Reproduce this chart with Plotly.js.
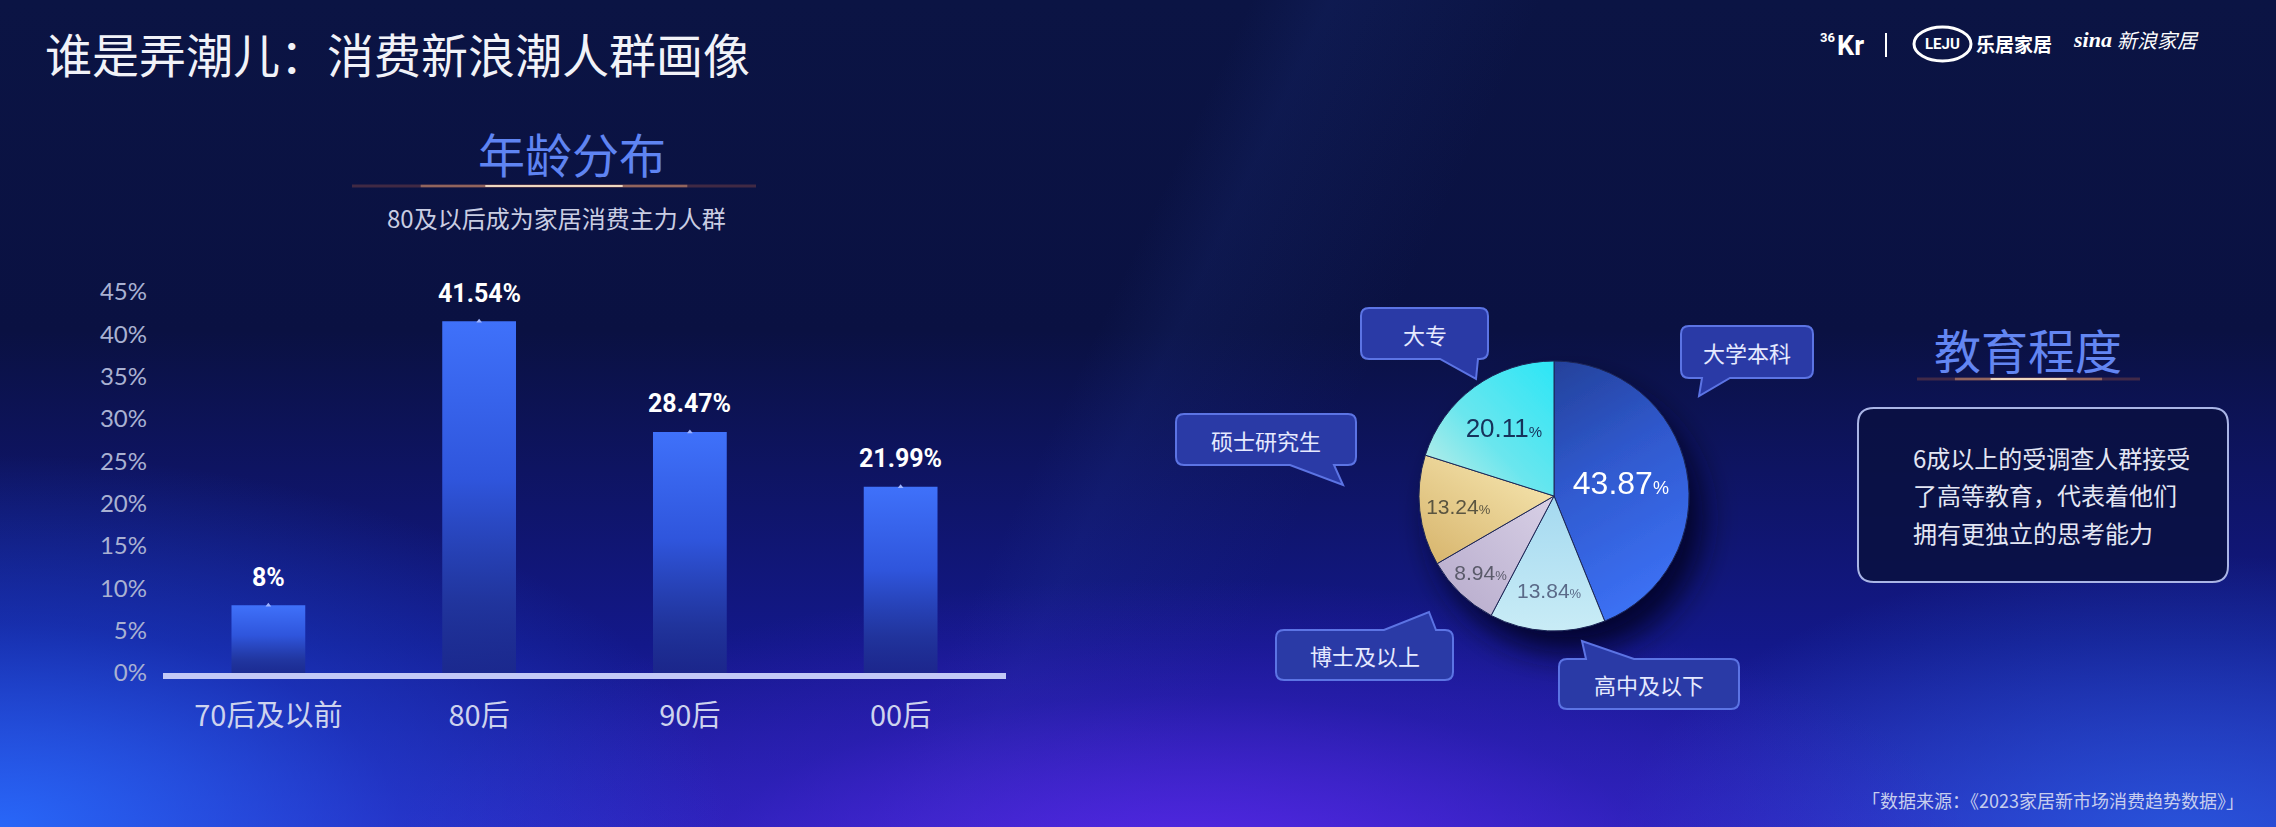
<!DOCTYPE html>
<html>
<head>
<meta charset="utf-8">
<script src="https://cdn.plot.ly/plotly-3.0.1.min.js"></script>
<style>
html,body{margin:0;padding:0;width:2276px;height:827px;overflow:hidden;}
body{
  background:
    radial-gradient(ellipse 32% 45% at 0% 100%, rgba(40,110,255,0.9) 0%, rgba(30,80,230,0.4) 55%, rgba(0,0,0,0) 100%),
    radial-gradient(ellipse 35% 35% at 52% 105%, rgba(90,40,235,0.9) 0%, rgba(60,30,200,0.35) 60%, rgba(0,0,0,0) 100%),
    radial-gradient(ellipse 25% 35% at 96% 102%, rgba(40,100,230,0.75) 0%, rgba(0,0,0,0) 100%),
    linear-gradient(115deg, rgba(0,0,0,0) 47%, rgba(40,70,170,0.12) 50%, rgba(0,0,0,0) 58%),
    linear-gradient(to bottom, #0b1444 0%, #0a1142 40%, #13188a 78%, #2a24b8 100%);
}
#chart{width:2276px;height:827px;}
</style>
</head>
<body>
<div id="chart"></div>
<script>
// ---------------- data ----------------
const ageCats = ['70后及以前', '80后', '90后', '00后'];
const ageVals = [8, 41.54, 28.47, 21.99];
const yTickVals = [0, 5, 10, 15, 20, 25, 30, 35, 40, 45];
const yTickText = ['0%', '5%', '10%', '15%', '20%', '25%', '30%', '35%', '40%', '45%'];

const eduLabels = ['大学本科', '高中及以下', '博士及以上', '硕士研究生', '大专'];
const eduVals = [43.87, 13.84, 8.94, 13.24, 20.11];

const titleText = '谁是弄潮儿：消费新浪潮人群画像';
const ageTitle = '年龄分布';
const ageSubtitle = '80及以后成为家居消费主力人群';
const eduTitle = '教育程度';
const eduNote = ['6成以上的受调查人群接受', '了高等教育，代表着他们', '拥有更独立的思考能力'];
const sourceText = '「数据来源：《2023家居新市场消费趋势数据》」';

// ---------------- helpers ----------------
const W = 2276, H = 827;
const px = x => x / W;
const py = y => 1 - y / H;
const CJK = '"Noto Sans CJK SC", "Noto Sans", sans-serif';

function bubblePath(b) {
  const [x0, y0, x1, y1] = b.box, r = b.r || 8;
  const P = (x, y) => px(x).toFixed(5) + ',' + py(y).toFixed(5);
  let d = 'M' + P(x0 + r, y0);
  if (b.side === 'top') d += ' L' + P(b.base[0], y0) + ' L' + P(b.tip[0], b.tip[1]) + ' L' + P(b.base[1], y0);
  d += ' L' + P(x1 - r, y0) + ' Q' + P(x1, y0) + ' ' + P(x1, y0 + r);
  d += ' L' + P(x1, y1 - r) + ' Q' + P(x1, y1) + ' ' + P(x1 - r, y1);
  if (b.side === 'bottom') d += ' L' + P(b.base[1], y1) + ' L' + P(b.tip[0], b.tip[1]) + ' L' + P(b.base[0], y1);
  d += ' L' + P(x0 + r, y1) + ' Q' + P(x0, y1) + ' ' + P(x0, y1 - r);
  d += ' L' + P(x0, y0 + r) + ' Q' + P(x0, y0) + ' ' + P(x0 + r, y0) + ' Z';
  return d;
}
function roundRect(x0, y0, x1, y1, r) {
  return bubblePath({box: [x0, y0, x1, y1], r: r, side: 'none'});
}

// callout placement (style / layout only)
const callouts = {
  '大专':     {box: [1361, 308, 1488, 359], side: 'bottom', base: [1440, 1478], tip: [1476, 379]},
  '大学本科': {box: [1681, 326, 1813, 378], side: 'bottom', base: [1702, 1730], tip: [1699, 396]},
  '硕士研究生': {box: [1176, 414, 1356, 465], side: 'bottom', base: [1290, 1334], tip: [1343, 485]},
  '博士及以上': {box: [1276, 630, 1453, 680], side: 'top', base: [1384, 1436], tip: [1429, 612]},
  '高中及以下': {box: [1559, 659, 1739, 709], side: 'top', base: [1586, 1634], tip: [1582, 641]}
};

// ---------------- traces ----------------
const barTrace = {
  type: 'bar', x: ageCats, y: ageVals,
  marker: {color: '#3d6ef5', line: {width: 0}},
  hoverinfo: 'skip', showlegend: false
};
const barTopTrace = {
  type: 'scatter', mode: 'markers', x: ageCats, y: ageVals,
  marker: {symbol: 'triangle-up', size: 5, color: '#9fb4ff'},
  hoverinfo: 'skip', showlegend: false, cliponaxis: false
};
const pieTextColor = ['#ffffff', '#5a6a88', '#5a5a6a', '#5a5440', '#16305a'];
const pieTextSize = [32, 21, 21, 21, 26];
const piePctSize = [18, 13, 13, 13, 15];
const pieTrace = {
  type: 'pie', labels: eduLabels, values: eduVals,
  sort: false, direction: 'clockwise', rotation: 0,
  domain: {x: [px(1419), px(1689)], y: [py(631), py(361)]},
  marker: {colors: ['#3563d8', '#b2e2f4', '#cbc3dc', '#ead28e', '#5fe6f2'], line: {color: '#1c2656', width: 1}},
  textinfo: 'none',
  texttemplate: eduVals.map((v, i) => '%{value}<span style="font-size:' + piePctSize[i] + 'px">%</span>'),
  textposition: 'inside', insidetextorientation: 'horizontal',
  textfont: {family: '"Liberation Sans", Arial, sans-serif', color: pieTextColor, size: pieTextSize},
  hoverinfo: 'skip', showlegend: false
};

// ---------------- annotations ----------------
const ann = [];
function note(x, y, text, font, xanchor) {
  ann.push({xref: 'paper', yref: 'paper', x: px(x), y: py(y), xanchor: xanchor || 'center', yanchor: 'middle',
    text: text, showarrow: false, font: font});
}
note(43, 53, titleText, {family: CJK, size: 47, color: '#f1f2f8'}, 'left');
note(572, 153, ageTitle, {family: CJK, size: 47, color: '#5f84f2'});
note(556, 218, ageSubtitle, {family: CJK, size: 24, color: '#c9cde2'});
note(2028, 349, eduTitle, {family: CJK, size: 47, color: '#6386f2'});
eduNote.forEach((t, i) => note(1911, 457 + i * 37.5, t, {family: CJK, size: 24, color: '#e3e6f4'}, 'left'));
note(2246, 800, sourceText, {family: CJK, size: 18, color: '#c6cdee'}, 'right');
// bar value labels
ageCats.forEach((c, i) => ann.push({xref: 'x', yref: 'y', x: c, y: ageVals[i], yshift: 28,
  xanchor: 'center', yanchor: 'middle', text: ageVals[i] + '%', showarrow: false,
  font: {family: 'Roboto, "Liberation Sans Narrow", sans-serif', weight: 700, size: 25, color: '#ffffff'}}));
// callout labels
eduLabels.forEach(l => {
  const b = callouts[l].box;
  note((b[0] + b[2]) / 2, (b[1] + b[3]) / 2, l, {family: CJK, size: 22, color: '#e6eaff'});
});
// logos
note(1827, 37, '36', {family: 'Roboto, sans-serif', weight: 700, size: 13, color: '#ffffff'});
note(1850, 46, 'Kr', {family: 'Roboto, sans-serif', weight: 700, size: 27, color: '#ffffff'});
note(1942, 44, 'LEJU', {family: 'Roboto, sans-serif', weight: 700, size: 15, color: '#ffffff'});
note(2014, 43, '乐居家居', {family: CJK, weight: 700, size: 19, color: '#ffffff'});
note(2092, 39, 'sina', {family: '"Liberation Serif", serif', weight: 700, style: 'italic', size: 22, color: '#ffffff'});
note(2158, 39, '新浪家居', {family: CJK, style: 'italic', size: 20, color: '#ffffff'});

// ---------------- shapes ----------------
const shapes = [];
function glowLine(x0, x1, y) {
  const c = (x0 + x1) / 2, w = x1 - x0;
  shapes.push({type: 'line', xref: 'paper', yref: 'paper', x0: px(x0), x1: px(x1), y0: py(y), y1: py(y), line: {color: 'rgba(110,60,70,0.55)', width: 3}});
  shapes.push({type: 'line', xref: 'paper', yref: 'paper', x0: px(c - w * 0.33), x1: px(c + w * 0.33), y0: py(y), y1: py(y), line: {color: 'rgba(200,140,110,0.6)', width: 2.5}});
  shapes.push({type: 'line', xref: 'paper', yref: 'paper', x0: px(c - w * 0.17), x1: px(c + w * 0.17), y0: py(y), y1: py(y), line: {color: 'rgba(255,236,210,0.85)', width: 2}});
}
glowLine(352, 756, 186);
glowLine(1917, 2140, 379);
shapes.push({type: 'path', xref: 'paper', yref: 'paper', path: roundRect(1858, 408, 2228, 582, 16),
  fillcolor: 'rgba(10,17,66,0.9)', line: {color: '#aab5e6', width: 2}, layer: 'below'});
eduLabels.forEach(l => shapes.push({type: 'path', xref: 'paper', yref: 'paper', path: bubblePath(callouts[l]),
  fillcolor: '#2a3aa6', line: {color: '#5c74e4', width: 2}, layer: 'above'}));
shapes.push({type: 'line', xref: 'paper', yref: 'paper', x0: px(1886), x1: px(1886), y0: py(33), y1: py(57), line: {color: '#ffffff', width: 2}});
shapes.push({type: 'circle', xref: 'paper', yref: 'paper', x0: px(1914), x1: px(1971), y0: py(61), y1: py(27), line: {color: '#ffffff', width: 3}});

// ---------------- layout ----------------
const layout = {
  width: W, height: H, margin: {l: 0, r: 0, t: 0, b: 0},
  paper_bgcolor: 'rgba(0,0,0,0)', plot_bgcolor: 'rgba(0,0,0,0)',
  bargap: 0.65, showlegend: false,
  xaxis: {domain: [px(163), px(1006)], type: 'category', range: [-0.5, 3.5], fixedrange: true,
    showline: true, linecolor: '#c3c9f7', linewidth: 6, showgrid: false, zeroline: false,
    ticks: '', ticklabelstandoff: 12, tickfont: {family: CJK, size: 29, color: '#cdd3ee'}},
  yaxis: {domain: [py(673), py(292)], range: [0, 45], fixedrange: true,
    tickvals: yTickVals, ticktext: yTickText, showgrid: false, zeroline: false, showline: false,
    ticks: '', ticklabelstandoff: 15, tickfont: {family: '"Lato", "Noto Sans", sans-serif', size: 24, color: '#a9b1d2'}},
  annotations: ann, shapes: shapes
};

Plotly.newPlot('chart', [barTrace, barTopTrace, pieTrace], layout, {staticPlot: true, displayModeBar: false}).then(gd => {
  const NS = 'http://www.w3.org/2000/svg';
  const svg = gd.querySelector('.main-svg');
  let defs = svg.querySelector('defs');
  if (!defs) { defs = document.createElementNS(NS, 'defs'); svg.insertBefore(defs, svg.firstChild); }
  function grad(id, x1, y1, x2, y2, stops) {
    const g = document.createElementNS(NS, 'linearGradient');
    g.setAttribute('id', id);
    g.setAttribute('x1', x1); g.setAttribute('y1', y1); g.setAttribute('x2', x2); g.setAttribute('y2', y2);
    stops.forEach(s => {
      const st = document.createElementNS(NS, 'stop');
      st.setAttribute('offset', s[0]); st.setAttribute('stop-color', s[1]);
      if (s[2] !== undefined) st.setAttribute('stop-opacity', s[2]);
      g.appendChild(st);
    });
    defs.appendChild(g);
  }
  grad('barGrad', 0, 0, 0, 1, [[0, '#3f71fa'], [0.45, '#2f55dc'], [0.8, '#22379f', 0.9], [1, '#1c2a88', 0.75]]);
  grad('pg0', 0, 0, 0.3, 1, [[0, '#24419a'], [0.45, '#2f58cc'], [1, '#3b6ff2']]);
  grad('pg1', 0, 0, 0, 1, [[0, '#a4d9f0'], [1, '#c9ecf6']]);
  grad('pg2', 1, 0, 0, 1, [[0, '#d8d0e6'], [1, '#b6aacb']]);
  grad('pg3', 0.8, 0, 0, 1, [[0, '#f6e6b0'], [1, '#d6b36a']]);
  grad('pg4', 1, 0, 0, 1, [[0, '#2ce6f6'], [0.55, '#6ae6ee'], [1, '#cdeee6']]);
  const f = document.createElementNS(NS, 'filter');
  f.setAttribute('id', 'pieShadow'); f.setAttribute('x', '-30%'); f.setAttribute('y', '-30%');
  f.setAttribute('width', '170%'); f.setAttribute('height', '170%');
  const ds = document.createElementNS(NS, 'feDropShadow');
  ds.setAttribute('dx', '14'); ds.setAttribute('dy', '22'); ds.setAttribute('stdDeviation', '16');
  ds.setAttribute('flood-color', '#02041a'); ds.setAttribute('flood-opacity', '0.85');
  f.appendChild(ds); defs.appendChild(f);

  gd.querySelectorAll('.barlayer .point path').forEach(p => p.style.setProperty('fill', 'url(#barGrad)'));
  gd.querySelectorAll('.pielayer .slice path.surface').forEach((p, i) => p.style.setProperty('fill', 'url(#pg' + i + ')'));
  const pt = gd.querySelector('.pielayer .trace');
  if (pt) pt.setAttribute('filter', 'url(#pieShadow)');
});
</script>
</body>
</html>
